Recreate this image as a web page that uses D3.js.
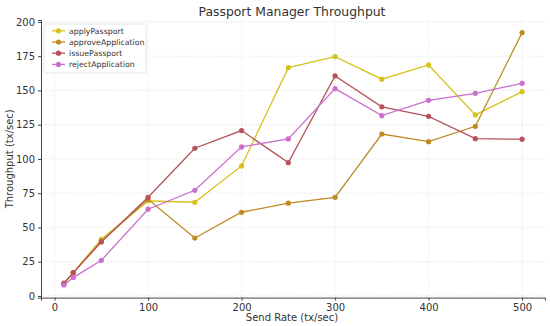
<!DOCTYPE html>
<html>
<head>
<meta charset="utf-8">
<script src="https://cdn.jsdelivr.net/npm/d3@7"></script>
<style>
  body { margin: 0; background: #fff; }
  text { font-family: "DejaVu Sans", sans-serif; }
</style>
</head>
<body>
<div class="canvas"></div>
<script>
const sendRates = [10, 20, 50, 100, 150, 200, 250, 300, 350, 400, 450, 500];
const applyPassport = [9, 17, 41.4, 69.3, 68.4, 94.9, 166.6, 174.7, 158.2, 168.6, 132.1, 149.1];
const approveApplication = [9, 17, 40, 70.5, 42.3, 61.1, 67.7, 72, 118.2, 112.6, 123.8, 192.2];
const issuePassport = [9.3, 17, 39.4, 72, 107.8, 120.7, 97.3, 160.6, 138, 131.1, 114.8, 114.4];
const rejectApplication = [8, 13.4, 26, 63.3, 77.1, 108.8, 114.6, 151.3, 131.6, 142.8, 147.9, 155.2];
const seriesNames = ['applyPassport', 'approveApplication', 'issuePassport', 'rejectApplication'];
const xTicks = [0, 100, 200, 300, 400, 500];
const yTicks = [0, 25, 50, 75, 100, 125, 150, 175, 200];

const series = [applyPassport, approveApplication, issuePassport, rejectApplication].map((vals, i) => ({
  name: seriesNames[i],
  values: vals.map((v, j) => ({ x: sendRates[j], y: v }))
}));

const dims = { width: 550, height: 326 };
const plot = { left: 41, right: 545, top: 20, bottom: 297.6 };

const color = d3.scaleOrdinal()
  .domain(seriesNames)
  .range(['#d6c21a', '#c08a22', '#b5525a', '#c96fcf']);

const svg = d3.select('.canvas')
  .append('svg')
  .attr('width', dims.width)
  .attr('height', dims.height);

const x = d3.scaleLinear().domain([-14.5, 524.5]).range([plot.left, plot.right]);
const y = d3.scaleLinear().domain([-1.2, 201.4]).range([plot.bottom, plot.top]);

// grid
const grid = svg.append('g').attr('stroke', '#dcdcdc').attr('stroke-width', 0.8).attr('stroke-dasharray', '1,1.5');
grid.selectAll('.vg').data(xTicks).enter().append('line')
  .attr('x1', (d) => x(d)).attr('x2', (d) => x(d))
  .attr('y1', plot.top).attr('y2', plot.bottom);
grid.selectAll('.hg').data(yTicks).enter().append('line')
  .attr('x1', plot.left).attr('x2', plot.right)
  .attr('y1', (d) => y(d)).attr('y2', (d) => y(d));

// axes
const xAxis = svg.append('g')
  .attr('transform', `translate(0, ${plot.bottom})`)
  .call(d3.axisBottom(x).tickValues(xTicks).tickSize(3).tickPadding(3));
const yAxis = svg.append('g')
  .attr('transform', `translate(${plot.left}, 0)`)
  .call(d3.axisLeft(y).tickValues(yTicks).tickSize(3).tickPadding(3));

[xAxis, yAxis].forEach((a) => {
  a.select('.domain').attr('stroke', '#444').attr('stroke-width', 1);
  a.selectAll('.tick line').attr('stroke', '#444');
  a.selectAll('.tick text').attr('fill', '#333').style('font-size', '10px').style('font-family', '"DejaVu Sans", sans-serif');
});

// lines
const line = d3.line().x((d) => x(d.x)).y((d) => y(d.y));

const lines = svg.append('g');
series.forEach((s) => {
  lines.append('path')
    .datum(s.values)
    .attr('fill', 'none')
    .attr('stroke', color(s.name))
    .attr('stroke-width', 1.3)
    .attr('d', line);
  lines.selectAll(null)
    .data(s.values)
    .enter()
    .append('circle')
    .attr('cx', (d) => x(d.x))
    .attr('cy', (d) => y(d.y))
    .attr('r', 2.6)
    .attr('fill', color(s.name));
});

// title and labels
svg.append('text')
  .attr('x', 292)
  .attr('y', 16)
  .attr('text-anchor', 'middle')
  .attr('fill', '#333')
  .style('font-size', '12.4px')
  .text('Passport Manager Throughput');

svg.append('text')
  .attr('x', 292)
  .attr('y', 321)
  .attr('text-anchor', 'middle')
  .attr('fill', '#333')
  .style('font-size', '10px')
  .text('Send Rate (tx/sec)');

svg.append('text')
  .attr('transform', `translate(13, ${(plot.top + plot.bottom) / 2}) rotate(-90)`)
  .attr('text-anchor', 'middle')
  .attr('fill', '#333')
  .style('font-size', '10px')
  .text('Throughput (tx/sec)');

// legend
const legendGroup = svg.append('g').attr('transform', 'translate(44, 24)');
legendGroup.append('rect')
  .attr('width', 102)
  .attr('height', 49)
  .attr('rx', 2)
  .attr('fill', 'rgba(255,255,255,0.8)')
  .attr('stroke', '#ddd')
  .attr('stroke-width', 0.8);

const legendItems = legendGroup.selectAll('.legend-item')
  .data(seriesNames)
  .enter()
  .append('g')
  .attr('class', 'legend-item')
  .attr('transform', (d, i) => `translate(0, ${6.8 + i * 11.2})`);

legendItems.append('line')
  .attr('x1', 8).attr('x2', 21)
  .attr('stroke', (d) => color(d))
  .attr('stroke-width', 1.3);
legendItems.append('circle')
  .attr('cx', 14.5).attr('r', 2.6)
  .attr('fill', (d) => color(d));
legendItems.append('text')
  .attr('x', 25)
  .attr('y', 3)
  .attr('fill', '#333')
  .style('font-size', '7.8px')
  .text((d) => d);
</script>
</body>
</html>
